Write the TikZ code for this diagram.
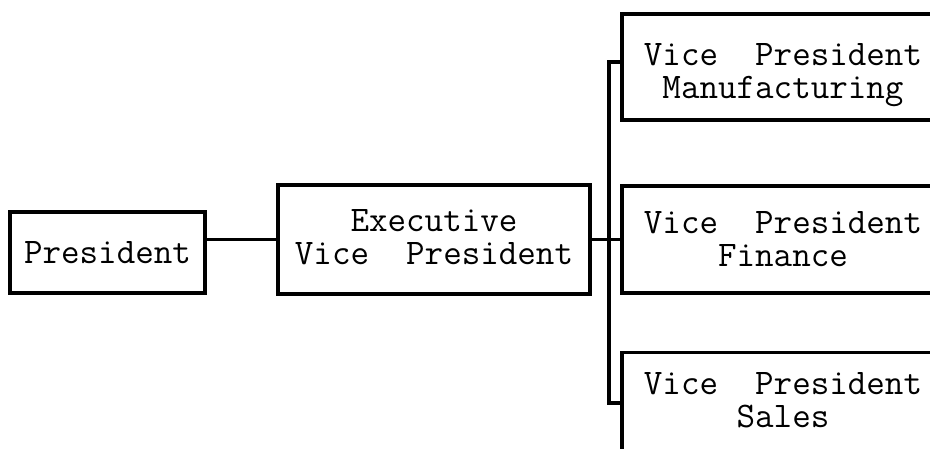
\documentclass[tikz,border=0pt]{standalone}
\usepackage{fontspec}
\begin{document}
\begin{tikzpicture}[x=1pt,y=-1pt,
  box/.style={draw,line width=3.2pt,rectangle,inner sep=0pt},
  lbl/.style={align=center,inner sep=0pt,font=\ttfamily\fontsize{36}{33}\selectfont},
  link/.style={line width=3.2pt}]
\useasboundingbox (0,0) rectangle (930,449);
\clip (0,0) rectangle (930,449);
\node[box,minimum width=195pt,minimum height=81pt,label={[lbl]center:President}] (pres) at (107.5,252.5) {};
\node[box,minimum width=312pt,minimum height=109pt,label={[lbl,yshift=2pt]center:{Executive\\Vice\ \ President}}] (evp) at (434,239.5) {};
\node[box,minimum width=322pt,minimum height=106pt,label={[lbl,yshift=-8pt]center:{Vice\ \ President\\Manufacturing}}] (vpm) at (783,67) {};
\node[box,minimum width=322pt,minimum height=107pt,label={[lbl]center:{Vice\ \ President\\Finance}}] (vpf) at (783,239.5) {};
\node[box,minimum width=322pt,minimum height=107pt,label={[lbl,yshift=6pt]center:{Vice\ \ President\\Sales}}] (vps) at (783,406) {};
\coordinate (bt) at (609,62);
\coordinate (bb) at (609,403);
\draw[link] (pres.east |- evp.west) -- (evp.west);
\draw[link] (evp.east) -- (vpf.west);
\draw[link] (vpm.west |- bt) -- (bt) -- (bb) -- (vps.west |- bb);
\end{tikzpicture}
\end{document}
